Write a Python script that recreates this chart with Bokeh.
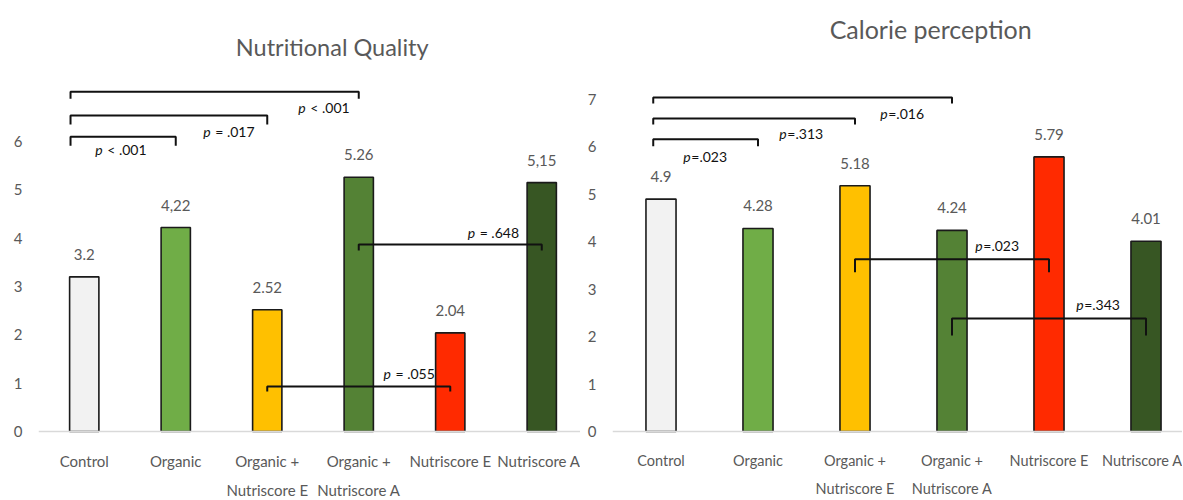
from bokeh.plotting import figure
from bokeh.layouts import row
from bokeh.models import Range1d, FixedTicker, Label, ColumnDataSource
from bokeh.embed import file_html
from bokeh.resources import INLINE
from bokeh.core.properties import value

# ---------------- data ----------------
categories = ["Control", "Organic", "Organic +\nNutriscore E",
              "Organic +\nNutriscore A", "Nutriscore E", "Nutriscore A"]
bar_colors = ["#f2f2f2", "#70ad47", "#ffc000", "#548235", "#ff2a00", "#375623"]

nq_values = [3.2, 4.22, 2.52, 5.26, 2.04, 5.15]
nq_labels = ["3.2", "4,22", "2.52", "5.26", "2.04", "5,15"]
nq_yticks = [0, 1, 2, 3, 4, 5, 6]
nq_pairs = [(0, 1), (0, 2), (0, 3), (3, 5), (2, 4)]
nq_levels = [6.10, 6.54, 7.03, 3.87, 0.93]
nq_ptext = ["< .001", "= .017", "< .001", "= .648", "= .055"]

cp_values = [4.9, 4.28, 5.18, 4.24, 5.79, 4.01]
cp_labels = ["4.9", "4.28", "5.18", "4.24", "5.79", "4.01"]
cp_yticks = [0, 1, 2, 3, 4, 5, 6, 7]
cp_pairs = [(0, 1), (0, 2), (0, 3), (2, 4), (3, 5)]
cp_levels = [6.16, 6.60, 7.04, 3.63, 2.38]
cp_ptext = ["=.023", "=.313", "=.016", "=.023", "=.343"]

FONT = "Lato"
GRAY = "#595959"
FIG_H = 498
ZERO_Y = 431   # pixel row of the baseline from the top of the figure


def panel(title, vals, labels, yticks, pairs, levels, ptext,
          width, bl, br, px_per_cat, px_per_unit, bar_w,
          start_off, tips_px, p_pos, p_off, title_pos, title_size, p_size, cat_size):
    frame_w = width - bl - br
    y0 = -(FIG_H - ZERO_Y) / px_per_unit
    y1 = ZERO_Y / px_per_unit
    p = figure(width=width, height=FIG_H, output_backend="svg", toolbar_location=None,
               x_range=Range1d(-0.5, -0.5 + frame_w / px_per_cat),
               y_range=Range1d(y0, y1),
               min_border_left=bl, min_border_right=br, min_border_top=0,
               min_border_bottom=0)
    p.outline_line_color = None
    p.xgrid.visible = False
    p.ygrid.visible = False
    p.background_fill_color = "white"

    src = ColumnDataSource(dict(x=list(range(len(vals))), top=vals, color=bar_colors, lab=labels))
    p.vbar(x="x", top="top", bottom=0, width=bar_w, fill_color="color", line_color="#1a1a1a",
           line_width=1.6, source=src)
    p.text(x="x", y="top", text="lab", source=src, text_align="center",
           text_baseline="bottom", y_offset=-17, text_font=value(FONT),
           text_font_size="15px", text_color=GRAY)

    # significance brackets
    xs, ys = [], []
    for (a, b), lv, tp in zip(pairs, levels, tips_px):
        x0 = a + (start_off if a == 0 else 0)
        x1 = b
        t = tp / px_per_unit
        xs.append([x0, x0, x1, x1])
        ys.append([lv - t, lv, lv, lv - t])
    p.multi_line(xs=xs, ys=ys, line_color="#111111", line_width=2)

    pxs = [q[0] for q in p_pos]
    pys = [q[1] for q in p_pos]
    p.text(x=pxs, y=pys, text=["p"] * len(pxs), text_align="left", text_baseline="middle",
           text_font=value(FONT), text_font_style="italic", text_font_size=p_size,
           text_color="#111111")
    p.text(x=pxs, y=pys, text=ptext, text_align="left", text_baseline="middle",
           x_offset=p_off, text_font=value(FONT), text_font_size=p_size, text_color="#111111")

    p.add_layout(Label(x=title_pos[0], y=title_pos[1], text=title, text_align="center",
                       text_baseline="middle", text_font=FONT, text_font_size=title_size,
                       text_color=GRAY))

    xa = p.xaxis[0]
    xa.fixed_location = 0
    xa.ticker = FixedTicker(ticks=list(range(len(categories))))
    xa.major_label_overrides = {i: c for i, c in enumerate(categories)}
    xa.axis_line_color = "#d9d9d9"
    xa.axis_line_width = 1.5
    xa.major_tick_line_color = None
    xa.minor_tick_line_color = None
    xa.major_tick_out = 0
    xa.major_tick_in = 0
    xa.major_label_standoff = 20
    xa.major_label_text_font = FONT
    xa.major_label_text_font_size = cat_size
    xa.major_label_text_color = GRAY
    xa.major_label_text_line_height = 1.65

    ya = p.yaxis[0]
    ya.ticker = FixedTicker(ticks=yticks)
    ya.axis_line_color = None
    ya.major_tick_line_color = None
    ya.minor_tick_line_color = None
    ya.major_tick_out = 0
    ya.major_tick_in = 0
    ya.minor_tick_out = 0
    ya.minor_tick_in = 0
    ya.major_label_standoff = 16
    ya.major_label_text_font = FONT
    ya.major_label_text_font_size = "15px"
    ya.major_label_text_color = GRAY
    return p


left = panel("Nutritional Quality", nq_values, nq_labels, nq_yticks, nq_pairs, nq_levels,
             nq_ptext, width=580, bl=38, br=0, px_per_cat=91.5, px_per_unit=48.33,
             bar_w=0.32, start_off=-0.15, tips_px=[9, 9, 7, 6, 5],
             p_pos=[(0.12, 5.83), (1.30, 6.21), (2.34, 6.70), (4.19, 4.12), (3.27, 1.20)],
             p_off=12, title_pos=(2.71, 7.95), title_size="23.5px", p_size="14px",
             cat_size="15px")

right = panel("Calorie perception", cp_values, cp_labels, cp_yticks, cp_pairs, cp_levels,
              cp_ptext, width=602, bl=32, br=0, px_per_cat=97, px_per_unit=47.43,
              bar_w=0.31, start_off=-0.08, tips_px=[7, 6, 6, 13, 17],
              p_pos=[(0.23, 5.80), (1.22, 6.28), (2.26, 6.70), (3.24, 3.92), (4.28, 2.68)],
              p_off=8, title_pos=(2.78, 8.48), title_size="25px", p_size="14px",
              cat_size="14.5px")

layout = row(left, right)
open("out.html", "w").write(file_html(layout, INLINE))
